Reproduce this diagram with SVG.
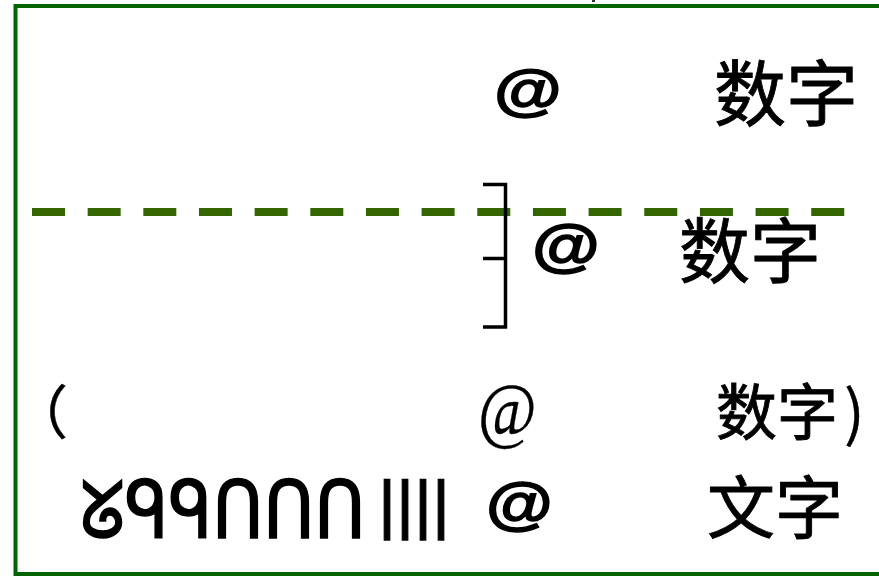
<svg xmlns="http://www.w3.org/2000/svg" width="879" height="576" viewBox="0 0 879 576">
<style>
.cjk{font-family:"Noto Sans CJK SC","Noto Sans CJK JP",sans-serif;fill:#000;stroke:#000;stroke-width:0.9}
.atb{font-family:"Liberation Sans",Arial,sans-serif;font-weight:bold;fill:#000;stroke:#000;stroke-width:1.4}
.ats{font-family:"Liberation Serif","Times New Roman",serif;fill:#000;stroke:#000;stroke-width:0.3}
.pix{font-family:"DejaVu Sans",sans-serif;fill:#000;stroke:#000;stroke-width:1.5}
.frame{fill:none;stroke:#006400;stroke-width:4}
.dash{fill:none;stroke:#336600;stroke-width:8;stroke-dasharray:33 22.66}
.brk{fill:none;stroke:#000;stroke-width:3.5}
</style>
<rect width="879" height="576" fill="#fff"/>
<g id="frame">
<rect class="frame" x="15.5" y="6" width="900" height="568"/>
<rect x="592" y="0" width="3" height="2" fill="#333"/>
</g>
<g id="connectors">
<line class="dash" x1="32" y1="212" x2="845" y2="212"/>
<path class="brk" d="M483 184.5H505.5V327H483M483 258.5H505.5"/>
</g>
<g id="row1">
<text class="atb" font-size="56" transform="translate(494 109) scale(1.24 1)">@</text>
<text class="cjk" x="714" y="120" font-size="72">数字</text>
</g>
<g id="row2">
<text class="atb" font-size="57" transform="translate(532 265) scale(1.22 1)">@</text>
<text class="cjk" x="679" y="277" font-size="71">数字</text>
</g>
<g id="row3">
<text class="cjk" x="10" y="434" font-size="58" style="stroke-width:0.4">（</text>
<text class="ats" font-size="75" transform="translate(478 435) scale(0.85 1)">@</text>
<text class="cjk" x="716" y="435" font-size="61">数字<tspan dx="6" style="stroke-width:0.4">)</tspan></text>
</g>
<g id="row4">
<text class="pix" font-size="80" transform="translate(80 538) scale(0.85 1)" textLength="336" lengthAdjust="spacingAndGlyphs">ᘜᑫᑫᑎᑎᑎ</text>
<text class="pix" font-size="110" transform="translate(378 540) scale(0.55 1)" textLength="131" lengthAdjust="spacingAndGlyphs">ıııı</text>
<text class="atb" font-size="57" transform="translate(486 523) scale(1.2 1)">@</text>
<text class="cjk" x="707" y="533" font-size="68">文字</text>
</g>
</svg>
